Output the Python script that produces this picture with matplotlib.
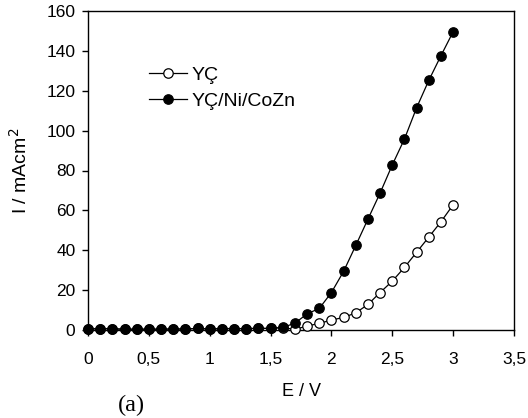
import matplotlib
matplotlib.use("Agg")
import matplotlib.pyplot as plt
import numpy as np

# potential (V), 0 .. 3.0 step 0.1
E = [0.0, 0.1, 0.2, 0.3, 0.4, 0.5, 0.6, 0.7, 0.8, 0.9,
     1.0, 1.1, 1.2, 1.3, 1.4, 1.5, 1.6, 1.7, 1.8, 1.9,
     2.0, 2.1, 2.2, 2.3, 2.4, 2.5, 2.6, 2.7, 2.8, 2.9, 3.0]

# current density, bare electrode
I_yc = [0.5, 0.7, 0.6, 0.4, 0.4, 0.4, 0.4, 0.5, 0.5, 0.8,
        0.5, 0.7, 0.7, 0.7, 0.8, 0.8, 1.2, 0.3, 2.0, 3.3,
        5.0, 6.3, 8.6, 12.8, 18.8, 24.5, 31.4, 39.0, 46.6, 54.3, 62.8]

# current density, Ni/CoZn coated electrode
I_coat = [0.5, 0.7, 0.6, 0.4, 0.4, 0.4, 0.4, 0.5, 0.5, 0.8,
          0.5, 0.7, 0.7, 0.7, 0.8, 0.8, 1.3, 3.4, 8.1, 10.8,
          18.8, 29.4, 42.4, 55.6, 68.7, 82.8, 95.8, 111.5, 125.2, 137.6, 149.6]

xticks = [0, 0.5, 1, 1.5, 2, 2.5, 3, 3.5]
xticklabels = ['0', '0,5', '1', '1,5', '2', '2,5', '3', '3,5']

plt.rcParams['font.family'] = ['Liberation Sans', 'DejaVu Sans']

fig = plt.figure(figsize=(5.28, 4.18), dpi=100)
ax = fig.add_axes([88/528, 1-330/418, (514-88)/528, (330-11)/418])

ax.plot(E, I_yc, '-', color='black', lw=0.9, marker='o', ms=6.8,
        mfc='white', mec='black', mew=0.9, label='YÇ', clip_on=False, zorder=3)
ax.plot(E, I_coat, '-', color='black', lw=0.9, marker='o', ms=6.8,
        mfc='black', mec='black', mew=0.9, label='YÇ/Ni/CoZn', clip_on=False, zorder=4)

ax.set_xlim(0, 3.5)
ax.set_ylim(0, 160)
ax.set_xticks(xticks)
ax.set_xticklabels(xticklabels)
ax.set_yticks(np.arange(0, 161, 20))
ax.tick_params(direction='out', length=4, width=1, labelsize=12.5)
ax.tick_params(axis='x', pad=12)
ax.tick_params(axis='y', pad=5)
for s in ax.spines.values():
    s.set_linewidth(1.0)

ax.set_xlabel('E / V', fontsize=13, labelpad=11)
ax.set_ylabel('I / mAcm$^2$', fontsize=14, labelpad=11)

ax.legend(loc='upper left', bbox_to_anchor=(0.126, 0.852), frameon=False,
          fontsize=14, handlelength=1.95, handletextpad=0.2,
          labelspacing=0.45, borderaxespad=0)

fig.text(131/528, 1-405/418, '(a)', fontsize=17.5, family='Liberation Serif',
         va='center', ha='center')

fig.savefig('out.png', dpi=100)
